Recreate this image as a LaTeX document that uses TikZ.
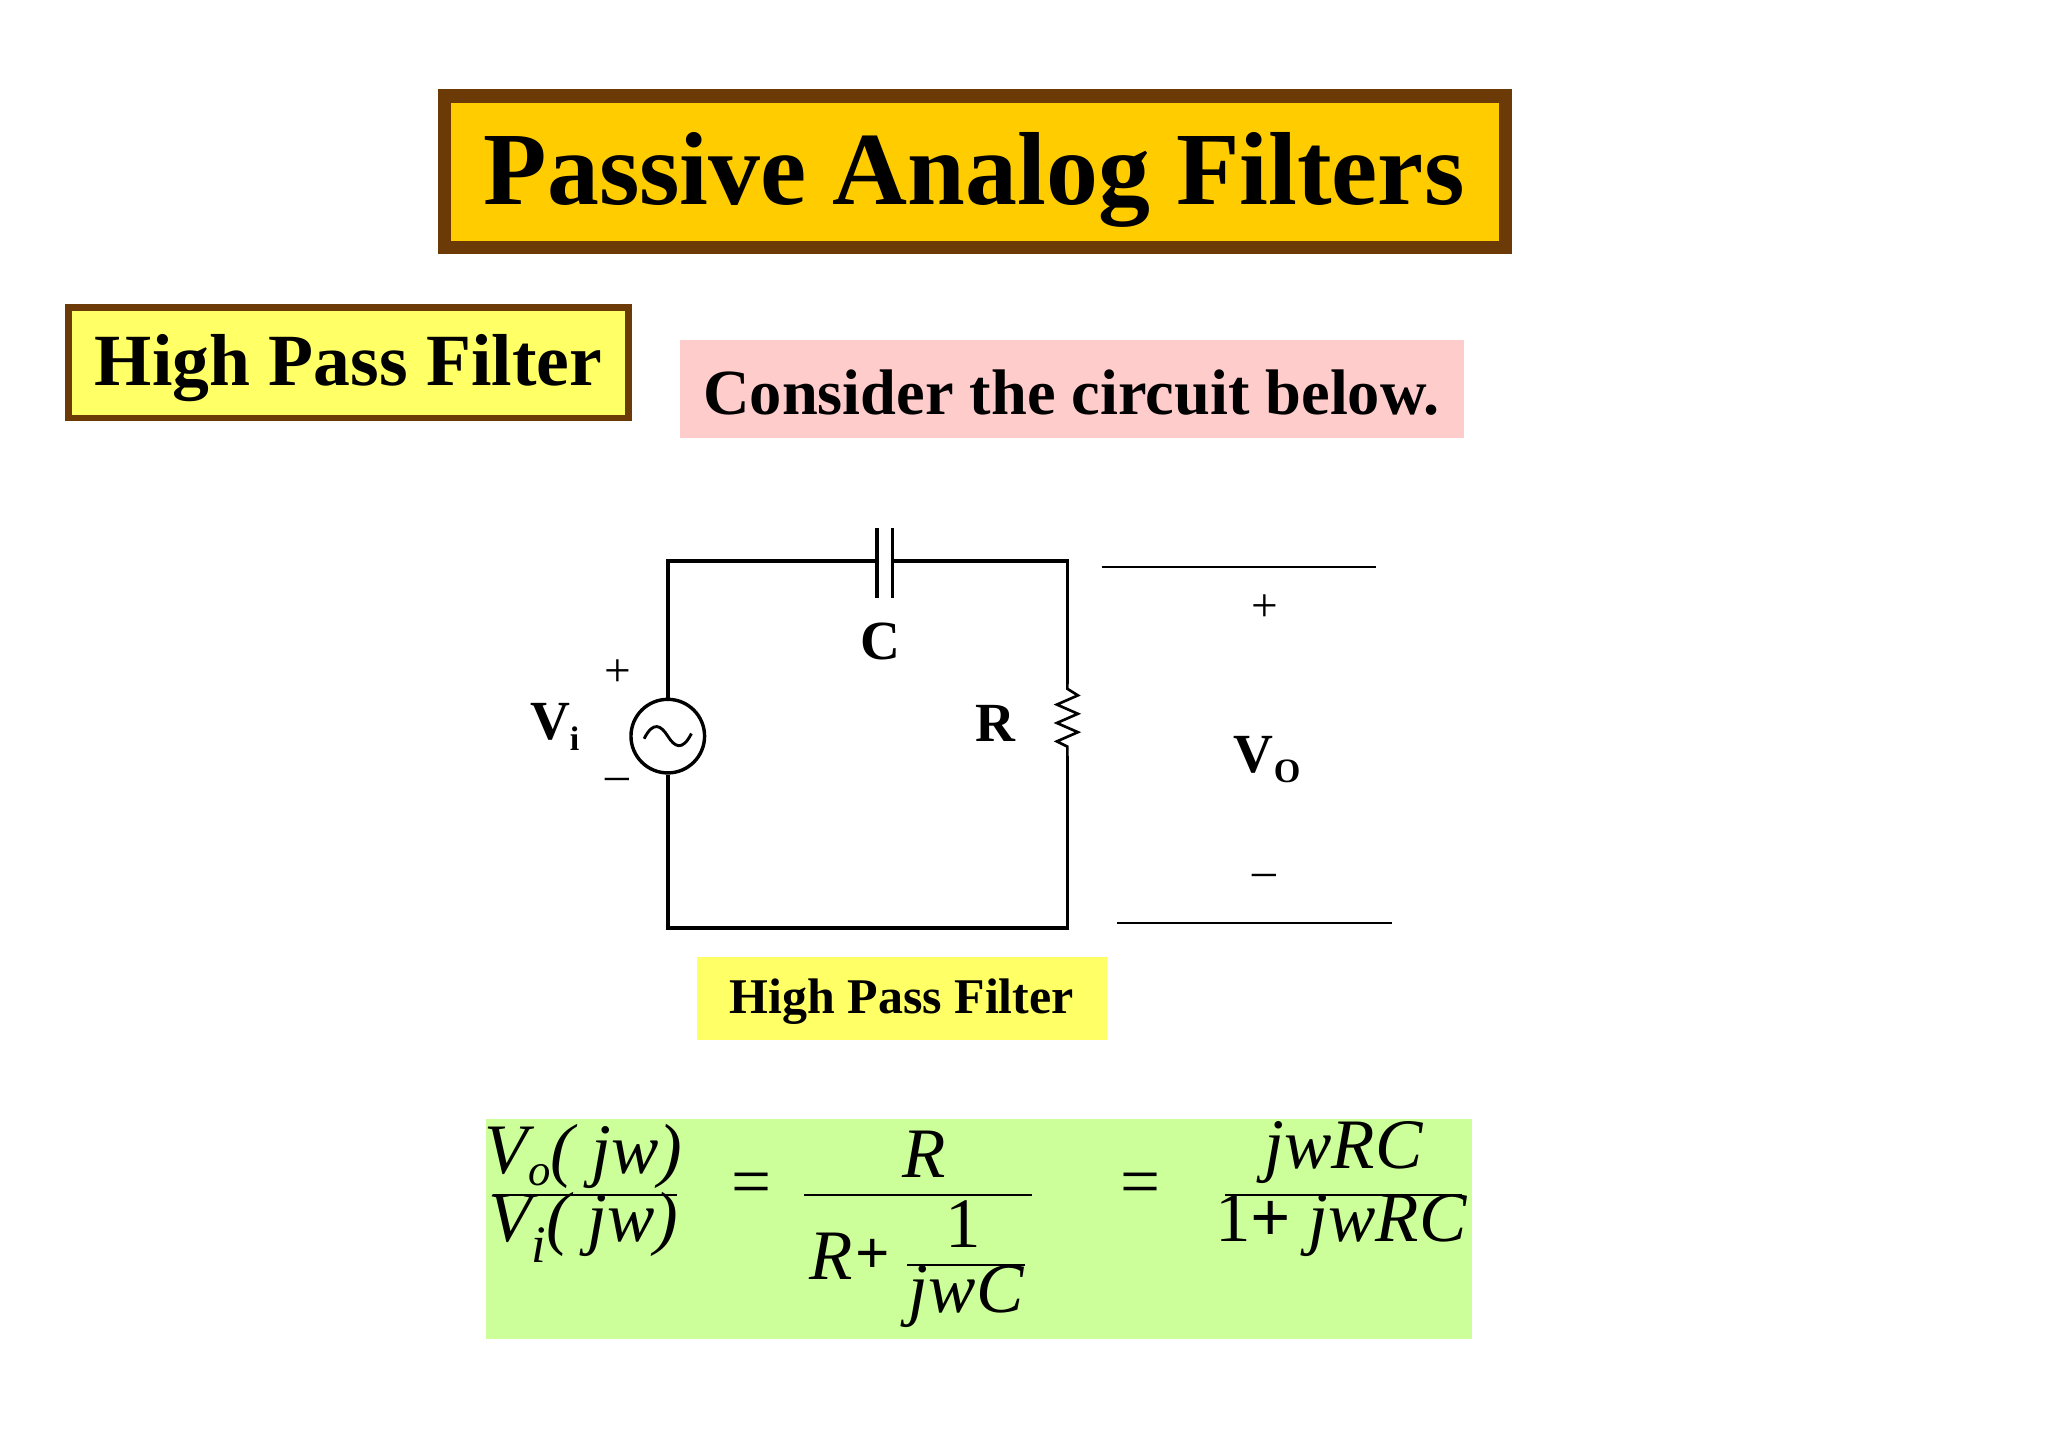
\documentclass[tikz,border=0pt]{standalone}
\usepackage{fontspec}
\setmainfont{Liberation Serif}
\begin{document}
\begin{tikzpicture}[x=1pt,y=-1pt,
  fs/.style={font=\fontsize{#1}{#1}\selectfont\bfseries},
  it/.style={font=\fontsize{#1}{#1}\selectfont\itshape},
  wire/.style={line width=2.8pt},
  thin/.style={line width=1.5pt}]
\definecolor{brownb}{HTML}{6B3A06}
\definecolor{gold}{HTML}{FFCC00}
\definecolor{lyel}{HTML}{FFFF66}
\definecolor{pink}{HTML}{FFCCCC}
\definecolor{lgreen}{HTML}{CCFF99}
\useasboundingbox (0,0) rectangle (1558,1102);
\fill[white] (0,0) rectangle (1558,1102);
% title
\draw[brownb,line width=10pt,fill=gold] (338,73) rectangle (1145,188);
\node[fs=79] (title) at (741,137) {Passive Analog Filters};
\draw[brownb,line width=5pt,fill=lyel] (52,234) rectangle (478,318);
\node[fs=56] (hpf) at (265,280) {High Pass Filter};
\fill[pink] (517,259) rectangle (1114,333);
\node[fs=49] (cons) at (815,299) {Consider the circuit below.};
% circuit
\coordinate (tl) at (508,427); \coordinate (tr) at (812,427);
\coordinate (bl) at (508,706); \coordinate (br) at (812,706);
\node[draw,circle,line width=2.6pt,minimum size=56pt,inner sep=0] (src) at (508,560) {};
\draw[line width=2.2pt] (490,562) .. controls (497,548) and (503,552) .. (508,560) .. controls (513,568) and (519,572) .. (526,558);
\draw[wire] (src.north) -- (tl) -- (667,427);
\draw[wire] (679,427) -- (tr) -- (812,520);
\draw[wire] (667,402) -- (667,455) (679,402) -- (679,455);
\draw[line width=2pt] (812,520) -- (812,524) -- (820,529) -- (804,536) -- (820,543) -- (804,550) -- (820,557) -- (804,564) -- (812,568) -- (812,575);
\draw[wire] (812,575) -- (br) -- (bl) -- (src.south);
\node[fs=42] (cl) at (670,488) {C};
\node[fs=42] (rl) at (757,550) {R};
\node[font=\fontsize{36}{36}\selectfont] (p1) at (470,512) {+};
\node[font=\fontsize{36}{36}\selectfont] (m1) at (470,597) {–};
\node[fs=42] (vi) at (422,553) {V\raisebox{-8pt}{\fontsize{26}{26}\selectfont i}};
\draw[thin] (838,431) coordinate (a1) -- (1047,431) coordinate (a2);
\draw[thin] (850,702) coordinate (b1) -- (1059,702) coordinate (b2);
\node[font=\fontsize{36}{36}\selectfont] (p2) at (962,463) {+};
\node[font=\fontsize{36}{36}\selectfont] (m2) at (962,670) {–};
\node[fs=42] (vo) at (964,578) {V\raisebox{-8pt}{\fontsize{26}{26}\selectfont O}};
\fill[lyel] (530,728) rectangle (842,791);
\node[fs=38] (hpf2) at (686,762) {High Pass Filter};
% equation
\fill[lgreen] (370,851) rectangle (1120,1019);
\node[it=54] (n1) at (444,880) {V\raisebox{-9pt}{\fontsize{34}{34}\selectfont o}( jw)};
\draw[thin] (375,909) -- (515,909);
\node[it=54] (d1) at (444,934) {V\raisebox{-16pt}{\fontsize{40}{40}\selectfont i}( jw)};
\node[font=\fontsize{54}{54}\selectfont] (e1) at (572,905) {=};
\node[it=54] (n2) at (703,878) {R};
\draw[thin] (612,909) -- (785,909);
\node[it=54] (d2) at (632,956) {R};
\node[font=\fontsize{46}{46}\selectfont\bfseries] (pl) at (664,956) {+};
\node[font=\fontsize{54}{54}\selectfont] (one) at (733,931) {1};
\draw[thin] (690,962) -- (780,962);
\node[it=54] (jwc) at (735,986) {jwC};
\node[font=\fontsize{54}{54}\selectfont] (e2) at (868,905) {=};
\node[it=54] (n3) at (1022,877) {jwRC};
\draw[thin] (932,909) -- (1112,909);
\node[it=54] (d3) at (1020,932) {\textup{1}\textup{\bfseries +} jwRC};
\end{tikzpicture}
\end{document}
